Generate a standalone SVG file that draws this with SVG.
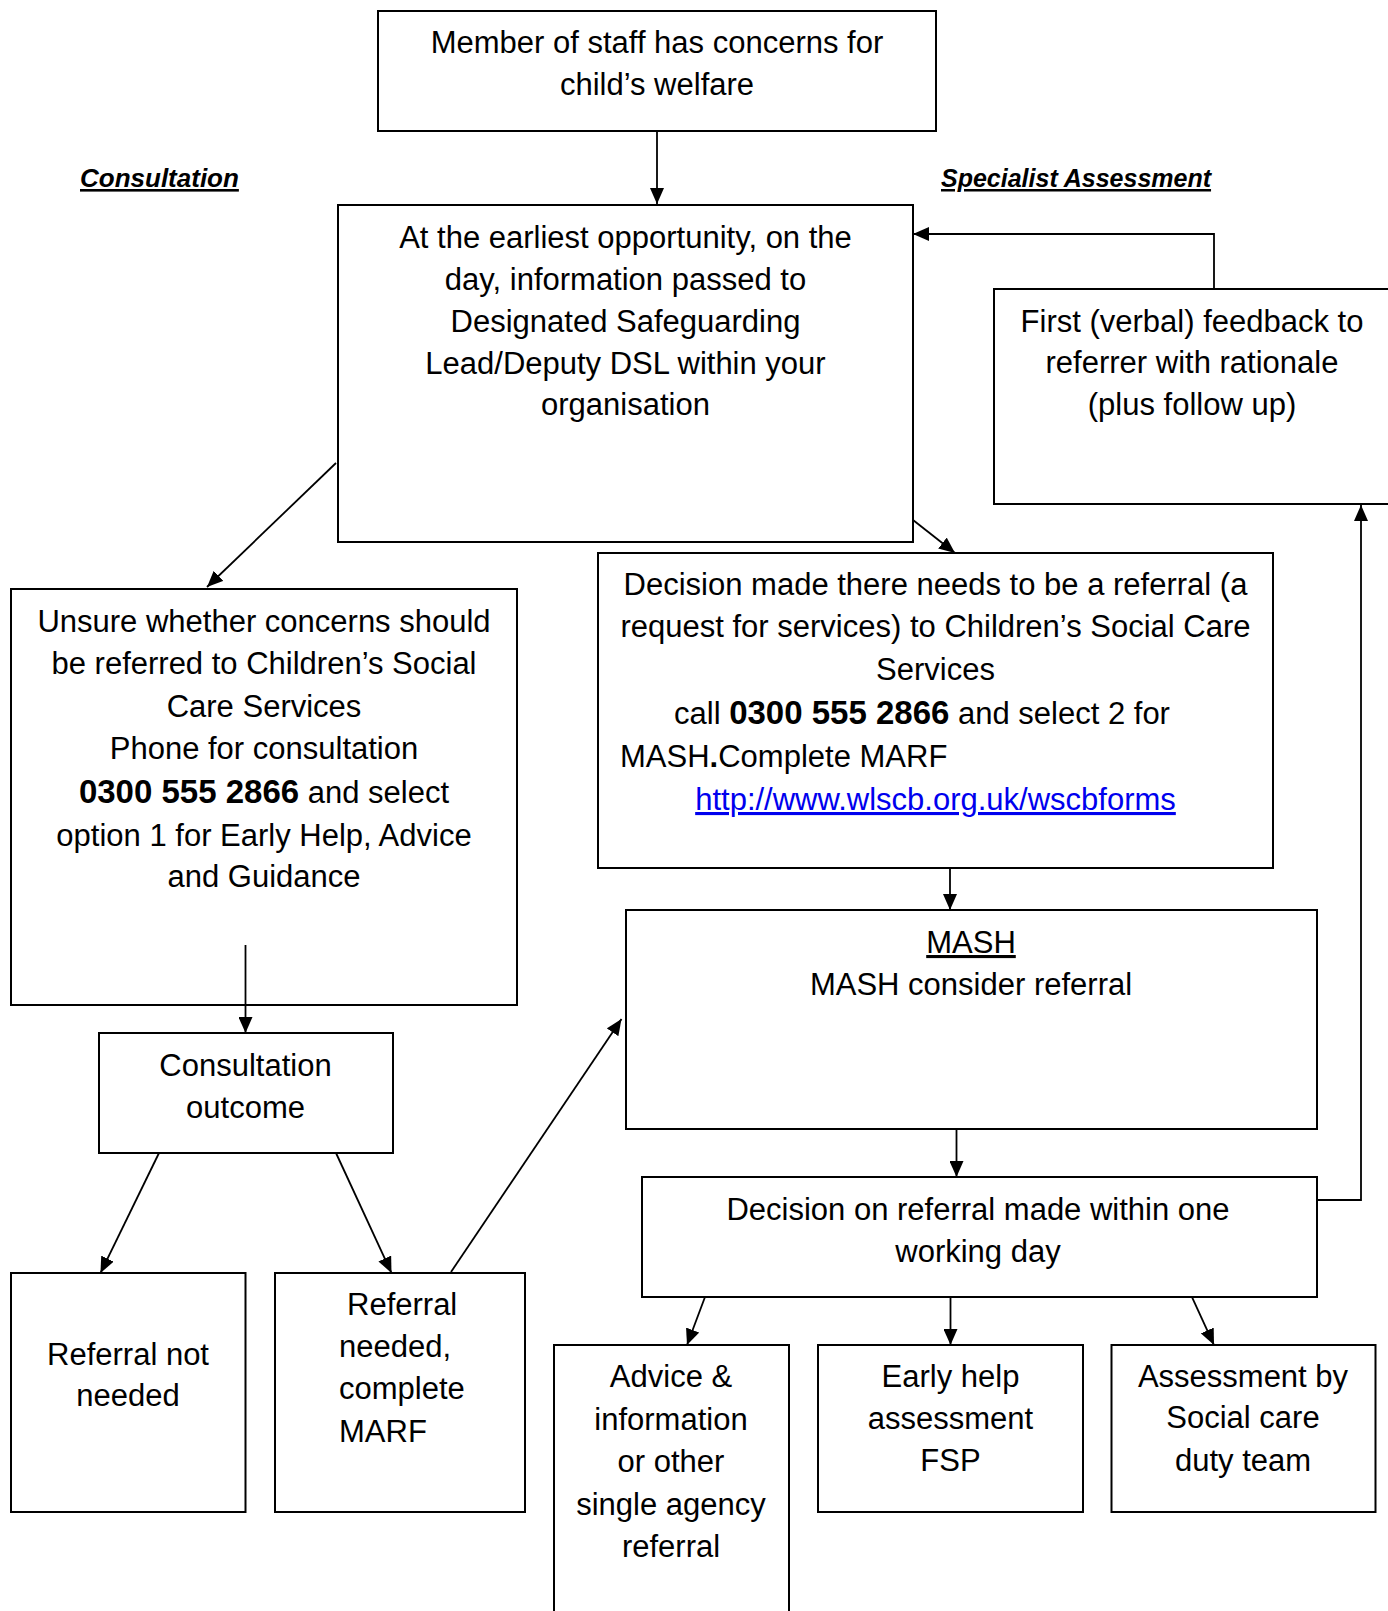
<svg xmlns="http://www.w3.org/2000/svg" width="1388" height="1611" viewBox="0 0 1388 1611">
<style>
.box{fill:#fff;stroke:#000;stroke-width:2}
.open{fill:none;stroke:#000;stroke-width:2}
.t{font-family:"Liberation Sans",Arial,sans-serif;font-size:31px;fill:#000;text-anchor:middle}
.l{text-anchor:start}
.b{font-weight:bold;font-size:33px}
.h{font-family:"Liberation Sans",Arial,sans-serif;font-weight:bold;font-style:italic;text-decoration:underline;fill:#000}
.c{fill:none;stroke:#000;stroke-width:1.8}
.link{fill:#0000ee;text-decoration:underline}
</style>
<defs>
<marker id="ah" markerUnits="userSpaceOnUse" markerWidth="16" markerHeight="14" refX="16" refY="7" orient="auto">
<path d="M0,0 L16,7 L0,14 z" fill="#000"/>
</marker>
</defs>
<rect width="1388" height="1611" fill="#fff"/>

<g id="headings">
<text class="h" x="80" y="187" font-size="26">Consultation</text>
<text class="h" x="941" y="187" font-size="25">Specialist Assessment</text>
</g>

<g id="n-staff">
<rect class="box" x="378" y="11" width="558" height="120"/>
<text class="t" x="657" y="53">Member of staff has concerns for</text>
<text class="t" x="657" y="95">child’s welfare</text>
</g>

<g id="n-dsl">
<rect class="box" x="338" y="205" width="575" height="337"/>
<text class="t" x="625.5" y="248">At the earliest opportunity, on the</text>
<text class="t" x="625.5" y="290">day, information passed to</text>
<text class="t" x="625.5" y="332">Designated Safeguarding</text>
<text class="t" x="625.5" y="374">Lead/Deputy DSL within your</text>
<text class="t" x="625.5" y="415">organisation</text>
</g>

<g id="n-feedback">
<path class="open" d="M1390,289 H994 V504 H1390"/>
<text class="t" x="1192" y="332">First (verbal) feedback to</text>
<text class="t" x="1192" y="373">referrer with rationale</text>
<text class="t" x="1192" y="415">(plus follow up)</text>
</g>

<g id="n-unsure">
<rect class="box" x="11" y="589" width="506" height="416"/>
<text class="t" x="264" y="632">Unsure whether concerns should</text>
<text class="t" x="264" y="674">be referred to Children’s Social</text>
<text class="t" x="264" y="717">Care Services</text>
<text class="t" x="264" y="759">Phone for consultation</text>
<text class="t" x="264" y="803"><tspan class="b">0300 555 2866</tspan> and select</text>
<text class="t" x="264" y="846">option 1 for Early Help, Advice</text>
<text class="t" x="264" y="887">and Guidance</text>
</g>

<g id="n-decision">
<rect class="box" x="598" y="553" width="675" height="315"/>
<text class="t" x="935.5" y="595">Decision made there needs to be a referral (a</text>
<text class="t" x="935.5" y="637">request for services) to Children’s Social Care</text>
<text class="t" x="935.5" y="680">Services</text>
<text class="t l" x="674" y="724">call <tspan class="b">0300 555 2866</tspan> and select 2 for</text>
<text class="t l" x="620" y="767">MASH<tspan font-weight="bold">.</tspan>Complete MARF</text>
<text class="t link" x="935.5" y="810">http://www.wlscb.org.uk/wscbforms</text>
</g>

<g id="n-mash">
<rect class="box" x="626" y="910" width="691" height="219"/>
<text class="t" x="971" y="953" text-decoration="underline">MASH</text>
<text class="t" x="971" y="995">MASH consider referral</text>
</g>

<g id="n-outcome-decision">
<rect class="box" x="642" y="1177" width="675" height="120"/>
<text class="t" x="978" y="1220">Decision on referral made within one</text>
<text class="t" x="978" y="1262">working day</text>
</g>

<g id="n-consultation-outcome">
<rect class="box" x="99" y="1033" width="294" height="120"/>
<text class="t" x="245.5" y="1076">Consultation</text>
<text class="t" x="245.5" y="1118">outcome</text>
</g>

<g id="n-not-needed">
<rect class="box" x="11" y="1273" width="234.5" height="239"/>
<text class="t" x="128" y="1365">Referral not</text>
<text class="t" x="128" y="1406">needed</text>
</g>

<g id="n-needed">
<rect class="box" x="275" y="1273" width="250" height="239"/>
<text class="t l" x="347" y="1315">Referral</text>
<text class="t l" x="339" y="1357">needed,</text>
<text class="t l" x="339" y="1399">complete</text>
<text class="t l" x="339" y="1442">MARF</text>
</g>

<g id="n-advice">
<path class="open" d="M554,1613 V1345 H789 V1613"/>
<text class="t" x="671" y="1387">Advice &amp;</text>
<text class="t" x="671" y="1430">information</text>
<text class="t" x="671" y="1472">or other</text>
<text class="t" x="671" y="1515">single agency</text>
<text class="t" x="671" y="1557">referral</text>
</g>

<g id="n-early-help">
<rect class="box" x="818" y="1345" width="265" height="167"/>
<text class="t" x="950.5" y="1387">Early help</text>
<text class="t" x="950.5" y="1429">assessment</text>
<text class="t" x="950.5" y="1471">FSP</text>
</g>

<g id="n-assessment">
<rect class="box" x="1111.5" y="1345" width="264" height="167"/>
<text class="t" x="1243" y="1387">Assessment by</text>
<text class="t" x="1243" y="1428">Social care</text>
<text class="t" x="1243" y="1471">duty team</text>
</g>

<g id="connectors">
<path class="c" d="M657,131 V204" marker-end="url(#ah)"/>
<path class="c" d="M1214,289 V234 H913" stroke-width="3" marker-end="url(#ah)"/>
<path class="c" d="M336,463 L207,587" marker-end="url(#ah)"/>
<path class="c" d="M913,520 L955,553" marker-end="url(#ah)"/>
<path class="c" d="M950,868 V910" marker-end="url(#ah)"/>
<path class="c" d="M956.5,1129 V1177" marker-end="url(#ah)"/>
<path class="c" d="M1317,1200 H1361 V505" marker-end="url(#ah)"/>
<path class="c" d="M245.5,945 V1033" marker-end="url(#ah)"/>
<path class="c" d="M159,1153 L100.5,1273" marker-end="url(#ah)"/>
<path class="c" d="M336,1153 L391.5,1273" marker-end="url(#ah)"/>
<path class="c" d="M451,1272 L621.5,1019" marker-end="url(#ah)"/>
<path class="c" d="M705,1297 L687,1345" marker-end="url(#ah)"/>
<path class="c" d="M950.5,1297 V1345" marker-end="url(#ah)"/>
<path class="c" d="M1192,1297 L1214,1345" marker-end="url(#ah)"/>
</g>
</svg>
